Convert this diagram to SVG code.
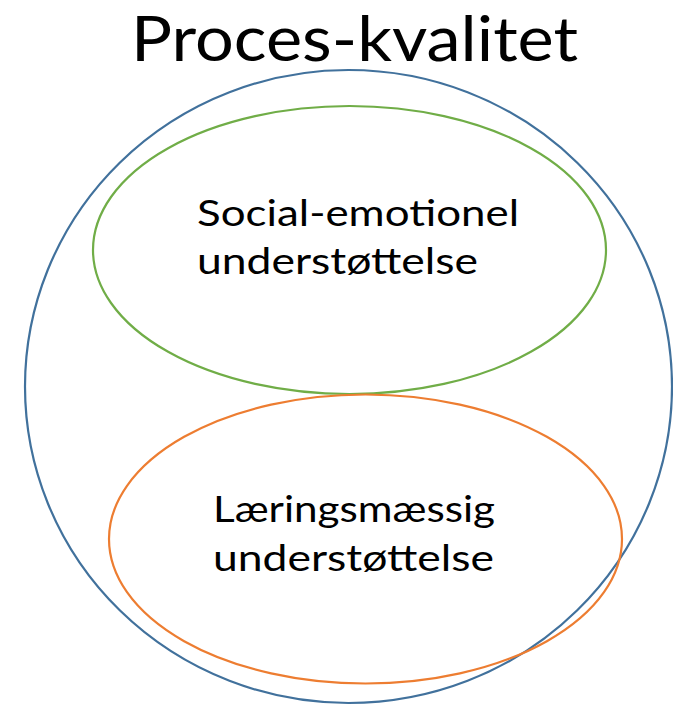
<svg xmlns="http://www.w3.org/2000/svg" width="673" height="705" viewBox="0 0 673 705">
<style>
.t{font-family:"Lato","Open Sans","Liberation Sans",sans-serif;fill:#000}
.big{font-size:61px}
.lbl{font-size:36px}
.sh{fill:none;stroke-width:2.2}
</style>
<rect width="673" height="705" fill="#fff"/>
<g id="title"><text class="t big" x="131" y="61" textLength="447" lengthAdjust="spacingAndGlyphs">Proces-kvalitet</text></g>
<g id="process-quality"><ellipse class="sh" cx="348.5" cy="386.5" rx="323.5" ry="316.5" stroke="#41719C"/></g>
<g id="social-emotional">
<ellipse class="sh" cx="349.5" cy="250" rx="256.5" ry="144" stroke="#70AD47"/>
<text class="t lbl" x="197" y="226" textLength="322" lengthAdjust="spacingAndGlyphs">Social-emotionel</text>
<text class="t lbl" x="197" y="274" textLength="281" lengthAdjust="spacingAndGlyphs">understøttelse</text>
</g>
<g id="learning">
<ellipse class="sh" cx="365.5" cy="539" rx="256.5" ry="144.5" stroke="#ED7D31"/>
<text class="t lbl" x="213" y="522" textLength="282" lengthAdjust="spacingAndGlyphs">Læringsmæssig</text>
<text class="t lbl" x="213" y="571" textLength="281" lengthAdjust="spacingAndGlyphs">understøttelse</text>
</g>
<g id="connectors"/>
</svg>
